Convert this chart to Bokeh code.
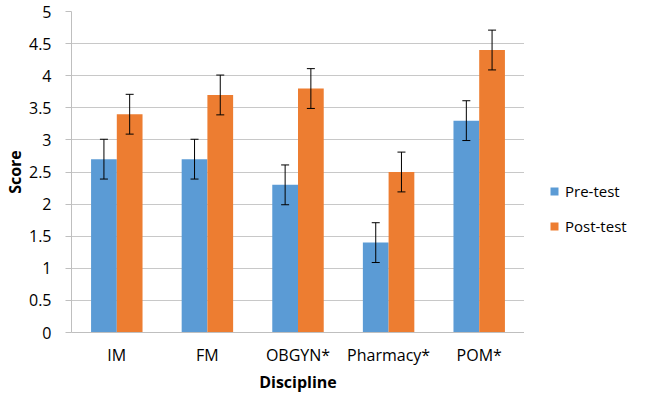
from bokeh.plotting import figure
from bokeh.layouts import row
from bokeh.models import (ColumnDataSource, FactorRange, Range1d, Whisker, Legend, LegendItem,
                          SingleIntervalTicker, TeeHead, Title)
from bokeh.transform import dodge
from bokeh.embed import file_html
from bokeh.resources import INLINE

categories = ["IM", "FM", "OBGYN*", "Pharmacy*", "POM*"]
pre_test = [2.7, 2.7, 2.3, 1.4, 3.3]
post_test = [3.4, 3.7, 3.8, 2.5, 4.4]
pre_err = [0.31, 0.31, 0.31, 0.31, 0.31]
post_err = [0.31, 0.31, 0.31, 0.31, 0.31]
series_names = ["Pre-test", "Post-test"]

BLUE = "#5B9BD5"
ORANGE = "#ED7D31"
FONT = "Open Sans"

src = ColumnDataSource(dict(
    cat=categories,
    pre=pre_test,
    post=post_test,
    pre_lo=[v - e for v, e in zip(pre_test, pre_err)],
    pre_hi=[v + e for v, e in zip(pre_test, pre_err)],
    post_lo=[v - e for v, e in zip(post_test, post_err)],
    post_hi=[v + e for v, e in zip(post_test, post_err)],
))

p = figure(width=524, height=392, output_backend="svg", toolbar_location=None,
           x_range=FactorRange(*categories, range_padding=0),
           y_range=Range1d(0, 5),
           min_border_left=0, min_border_top=11, min_border_right=0, min_border_bottom=0)
p.outline_line_color = None
p.background_fill_color = "white"

off = 0.142
w = 0.284
r1 = p.vbar(x=dodge("cat", -off, range=p.x_range), top="pre", width=w, source=src,
            fill_color=BLUE, line_color=None)
r2 = p.vbar(x=dodge("cat", off, range=p.x_range), top="post", width=w, source=src,
            fill_color=ORANGE, line_color=None)

for base, lo, hi in [(-off, "pre_lo", "pre_hi"), (off, "post_lo", "post_hi")]:
    wk = Whisker(base=dodge("cat", base, range=p.x_range), lower=lo, upper=hi, source=src,
                 line_color="black", line_width=1, level="overlay",
                 upper_head=TeeHead(size=8, line_color="black", line_width=1),
                 lower_head=TeeHead(size=8, line_color="black", line_width=1))
    p.add_layout(wk)

p.yaxis.ticker = SingleIntervalTicker(interval=0.5)
p.xgrid.grid_line_color = None
p.ygrid.grid_line_color = "#C8C8C8"
p.ygrid.grid_line_width = 1

for ax in (p.xaxis, p.yaxis):
    ax.axis_line_color = "#BFBFBF"
    ax.major_tick_in = 0
    ax.minor_tick_line_color = None
    ax.major_label_text_font = FONT
    ax.major_label_text_font_size = "16px"
    ax.major_label_text_color = "black"
    ax.axis_label_text_font = FONT
    ax.axis_label_text_font_size = "16px"
    ax.axis_label_text_font_style = "bold"
    ax.axis_label_text_color = "black"

p.yaxis.major_tick_out = 6
p.yaxis.major_tick_line_color = "#BFBFBF"
p.yaxis.major_label_standoff = 14
p.yaxis.axis_label = "Score"
p.yaxis.axis_label_standoff = 0
p.yaxis.formatter.use_scientific = False

p.xaxis.major_tick_out = 0
p.xaxis.major_tick_line_color = None
p.xaxis.major_label_standoff = 11

p.add_layout(Title(text="Discipline", align="center", standoff=0, text_font=FONT,
                   text_font_size="16px", text_font_style="bold", text_color="black"), "below")

# Legend panel: a second, axis-free figure; its renderers lie outside its visible x range
p2 = figure(width=106, height=392, output_backend="svg", toolbar_location=None,
            x_range=Range1d(0, 1), y_range=Range1d(0, 1),
            min_border_left=0, min_border_top=0, min_border_right=0, min_border_bottom=0)
p2.axis.visible = False
p2.grid.visible = False
p2.outline_line_color = None
l1 = p2.vbar(x="pre", top="pre", width=w, source=src, fill_color=BLUE, line_color=None)
l2 = p2.vbar(x="post", top="post", width=w, source=src, fill_color=ORANGE, line_color=None)

legend = Legend(items=[LegendItem(label=series_names[0], renderers=[l1]),
                       LegendItem(label=series_names[1], renderers=[l2])],
                location=(25, 96), orientation="vertical",
                glyph_width=10, glyph_height=10, label_standoff=6, spacing=15,
                padding=0, margin=0, border_line_color=None, background_fill_alpha=0,
                label_text_font=FONT, label_text_font_size="15px", label_text_color="black")
p2.add_layout(legend, "center")

layout = row(p, p2)
open("out.html", "w").write(file_html(layout, INLINE))
